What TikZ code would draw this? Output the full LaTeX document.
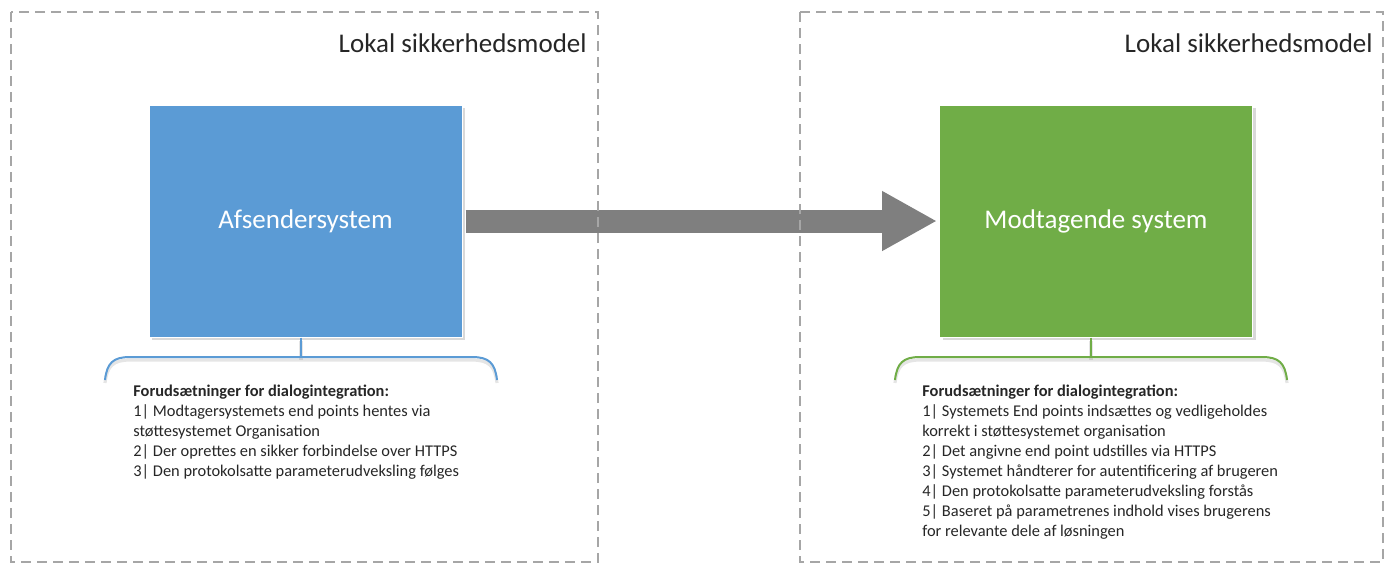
\documentclass[tikz,border=0pt]{standalone}
\usepackage{fontspec}
\setmainfont{Carlito}
\usepackage{tikz}
\usetikzlibrary{arrows.meta}
\usetikzlibrary{positioning}
\usetikzlibrary{shadows}
\definecolor{sysblue}{HTML}{5B9BD5}
\definecolor{sysgreen}{HTML}{70AD47}
\definecolor{framegray}{HTML}{A6A6A6}
\definecolor{arrowgray}{HTML}{7F7F7F}
\definecolor{textgray}{HTML}{262626}
\tikzset{
    system/.style={
           rectangle,
           draw=white, line width=0.5pt,
           minimum width=156.5pt,
           minimum height=116pt,
           text=white,
           font=\fontsize{13.5}{16}\selectfont,
           drop shadow={shadow xshift=1.5pt, shadow yshift=-1.5pt, opacity=0.3},
           },
    zone/.style={
           draw=framegray, line width=0.8pt,
           dash pattern=on 5pt off 3pt,
           },
    zonetitle/.style={
           anchor=east,
           inner sep=0pt,
           text=textgray,
           font=\fontsize{13.5}{16}\selectfont,
           },
    brace/.style={
           line width=1pt,
           preaction={draw=black, opacity=0.1, line width=1.6pt,
                      transform canvas={yshift=-1.5pt}},
           },
    notes/.style={
           anchor=north west,
           align=left,
           inner sep=0pt,
           text=textgray,
           font=\fontsize{8.2}{10}\selectfont,
           },
    flow/.style={
           draw=arrowgray, line width=11.5pt,
           -{Triangle[length=27.5pt, width=28pt]},
           shorten <=1.5pt, shorten >=1pt,
           },
}

\begin{document}
\begin{tikzpicture}[x=0.5pt, y=-0.5pt]
 \useasboundingbox (0,0) rectangle (1385,564);

 % the two systems
 \node[system, fill=sysblue] (SENDER) at (305.5,221) {Afsendersystem};
 \node[system, fill=sysgreen] (RECEIVER) at (1096,221) {Modtagende system};

 % zone titles
 \node[zonetitle] (LTITLE) at (587,43) {Lokal sikkerhedsmodel};
 \node[zonetitle] (RTITLE) at (1373,43) {Lokal sikkerhedsmodel};

 % braces below the boxes
 \coordinate (LBRACE) at (301,357);
 \coordinate (RBRACE) at (1091,357);
 \draw[brace, sysblue] (LBRACE |- SENDER.south) -- (LBRACE);
 \draw[brace, sysblue] (105,380) .. controls (107,363) and (113,357) .. (130,357)
   -- (472,357) .. controls (489,357) and (495,363) .. (497,380);
 \draw[brace, sysgreen] (RBRACE |- RECEIVER.south) -- (RBRACE);
 \draw[brace, sysgreen] (895,380) .. controls (897,363) and (903,357) .. (920,357)
   -- (1262,357) .. controls (1279,357) and (1285,363) .. (1287,380);

 % requirements
 \node[notes] (LNOTES) at (133,385) {%
 \textbf{Forudsætninger for dialogintegration:}\\
 1| Modtagersystemets end points hentes via\\
 støttesystemet Organisation\\
 2| Der oprettes en sikker forbindelse over HTTPS\\
 3| Den protokolsatte parameterudveksling følges
 };
 \node[notes] (RNOTES) at (922,385) {%
 \textbf{Forudsætninger for dialogintegration:}\\
 1| Systemets End points indsættes og vedligeholdes\\
 korrekt i støttesystemet organisation\\
 2| Det angivne end point udstilles via HTTPS\\
 3| Systemet håndterer for autentificering af brugeren\\
 4| Den protokolsatte parameterudveksling forstås\\
 5| Baseret på parametrenes indhold vises brugerens\\
 for relevante dele af løsningen
 };

 % the call
 \draw[flow] (SENDER.east) -- (RECEIVER.west);

 % dashed zones
 \draw[zone] (11,12) rectangle (598,562);
 \draw[zone] (800,12) rectangle (1383,562);
\end{tikzpicture}
\end{document}
